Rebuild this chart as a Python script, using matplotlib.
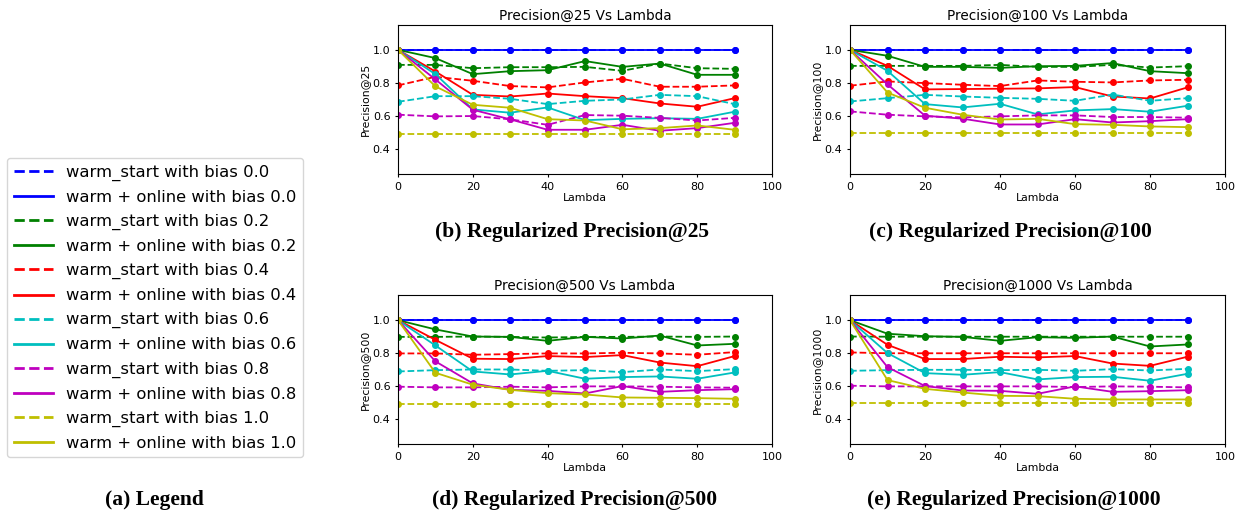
import matplotlib
matplotlib.use("Agg")
import matplotlib.pyplot as plt
from matplotlib.lines import Line2D

lambdas = [0, 10, 20, 30, 40, 50, 60, 70, 80, 90]
biases = ["0.0", "0.2", "0.4", "0.6", "0.8", "1.0"]
colors = ["b", "g", "r", "c", "m", "y"]

# Precision@25
p25_warm = [
    [1.0] * 10,
    [0.909, 0.909, 0.889, 0.895, 0.895, 0.897, 0.873, 0.917, 0.889, 0.885],
    [0.785, 0.837, 0.813, 0.781, 0.773, 0.803, 0.825, 0.777, 0.777, 0.785],
    [0.686, 0.72, 0.72, 0.704, 0.672, 0.692, 0.70, 0.728, 0.72, 0.672],
    [0.608, 0.598, 0.60, 0.58, 0.547, 0.606, 0.602, 0.589, 0.573, 0.589],
    [0.489] * 10,
]
p25_online = [
    [1.0] * 10,
    [1.0, 0.95, 0.853, 0.871, 0.877, 0.932, 0.897, 0.917, 0.849, 0.849],
    [1.0, 0.869, 0.728, 0.718, 0.736, 0.72, 0.708, 0.676, 0.656, 0.708],
    [1.0, 0.853, 0.64, 0.62, 0.652, 0.575, 0.583, 0.587, 0.583, 0.626],
    [1.0, 0.821, 0.638, 0.58, 0.517, 0.517, 0.547, 0.511, 0.527, 0.559],
    [1.0, 0.779, 0.668, 0.65, 0.581, 0.573, 0.52, 0.527, 0.543, 0.517],
]

# Precision@100
p100_warm = [
    [1.0] * 10,
    [0.903, 0.903, 0.903, 0.903, 0.909, 0.897, 0.897, 0.909, 0.893, 0.901],
    [0.783, 0.809, 0.799, 0.789, 0.781, 0.815, 0.807, 0.803, 0.815, 0.819],
    [0.688, 0.708, 0.728, 0.718, 0.71, 0.704, 0.692, 0.73, 0.692, 0.708],
    [0.628, 0.608, 0.598, 0.592, 0.598, 0.604, 0.604, 0.594, 0.594, 0.59],
    [0.50] * 10,
]
p100_online = [
    [1.0] * 10,
    [1.0, 0.964, 0.897, 0.897, 0.891, 0.901, 0.903, 0.92, 0.871, 0.859],
    [1.0, 0.903, 0.761, 0.763, 0.765, 0.767, 0.775, 0.718, 0.706, 0.773],
    [1.0, 0.873, 0.672, 0.652, 0.674, 0.61, 0.634, 0.642, 0.626, 0.662],
    [1.0, 0.791, 0.602, 0.584, 0.549, 0.549, 0.581, 0.561, 0.569, 0.581],
    [1.0, 0.742, 0.65, 0.608, 0.579, 0.583, 0.551, 0.547, 0.537, 0.533],
]

# Precision@500
p500_warm = [
    [1.0] * 10,
    [0.899, 0.899, 0.901, 0.899, 0.895, 0.899, 0.899, 0.901, 0.899, 0.901],
    [0.799, 0.799, 0.791, 0.795, 0.799, 0.799, 0.803, 0.799, 0.791, 0.807],
    [0.69, 0.698, 0.702, 0.702, 0.694, 0.698, 0.686, 0.702, 0.692, 0.704],
    [0.598, 0.594, 0.594, 0.598, 0.594, 0.60, 0.60, 0.598, 0.594, 0.592],
    [0.495] * 10,
]
p500_online = [
    [1.0] * 10,
    [1.0, 0.944, 0.901, 0.899, 0.875, 0.899, 0.889, 0.907, 0.847, 0.857],
    [1.0, 0.881, 0.767, 0.765, 0.783, 0.777, 0.789, 0.744, 0.722, 0.783],
    [1.0, 0.847, 0.69, 0.672, 0.694, 0.646, 0.656, 0.66, 0.646, 0.684],
    [1.0, 0.751, 0.618, 0.579, 0.573, 0.557, 0.602, 0.567, 0.577, 0.583],
    [1.0, 0.682, 0.61, 0.579, 0.559, 0.551, 0.533, 0.531, 0.529, 0.525],
]

# Precision@1000
p1000_warm = [
    [1.0] * 10,
    [0.901, 0.90, 0.90, 0.90, 0.90, 0.90, 0.90, 0.90, 0.90, 0.90],
    [0.805, 0.80, 0.80, 0.80, 0.80, 0.80, 0.80, 0.80, 0.80, 0.80],
    [0.694, 0.698, 0.70, 0.70, 0.698, 0.70, 0.694, 0.704, 0.696, 0.706],
    [0.604, 0.60, 0.60, 0.60, 0.60, 0.60, 0.596, 0.60, 0.598, 0.594],
    [0.50] * 10,
]
p1000_online = [
    [1.0] * 10,
    [1.0, 0.918, 0.903, 0.899, 0.875, 0.897, 0.893, 0.901, 0.841, 0.853],
    [1.0, 0.851, 0.765, 0.765, 0.779, 0.775, 0.783, 0.738, 0.724, 0.779],
    [1.0, 0.801, 0.68, 0.67, 0.686, 0.642, 0.656, 0.658, 0.634, 0.676],
    [1.0, 0.716, 0.602, 0.575, 0.573, 0.555, 0.60, 0.567, 0.571, 0.577],
    [1.0, 0.638, 0.585, 0.563, 0.543, 0.541, 0.525, 0.521, 0.521, 0.521],
]

panels = [
    ("25", p25_warm, p25_online, [0.3215, 0.6602, 0.3021, 0.291]),
    ("100", p100_warm, p100_online, [0.6866, 0.6602, 0.3029, 0.291]),
    ("500", p500_warm, p500_online, [0.3215, 0.1322, 0.3021, 0.291]),
    ("1000", p1000_warm, p1000_online, [0.6866, 0.1322, 0.3029, 0.291]),
]
captions = ["(b) Regularized Precision@25", "(c) Regularized Precision@100",
            "(d) Regularized Precision@500", "(e) Regularized Precision@1000"]
caption_pos = [(0.462, 0.527), (0.816, 0.527), (0.464, 0.004), (0.819, 0.004)]

fig = plt.figure(figsize=(12.38, 5.12), dpi=100)

for i, (k, warm, online, rect) in enumerate(panels):
    ax = fig.add_axes(rect)
    for j in range(len(biases)):
        ax.plot(lambdas, warm[j], color=colors[j], linestyle="--", marker="o",
                markersize=4, linewidth=1.3)
        ax.plot(lambdas, online[j], color=colors[j], linestyle="-", marker="o",
                markersize=4, linewidth=1.3)
    ax.set_xlim(0, 100)
    ax.set_ylim(0.25, 1.15)
    ax.set_xticks([0, 20, 40, 60, 80, 100])
    ax.set_yticks([0.4, 0.6, 0.8, 1.0])
    ax.tick_params(labelsize=8, length=2)
    ax.set_title("Precision@" + k + " Vs Lambda", fontsize=9.8, pad=4)
    ax.set_xlabel("Lambda", fontsize=7.8, labelpad=1)
    ax.set_ylabel("Precision@" + k, fontsize=7.8, labelpad=2)
    fig.text(caption_pos[i][0], caption_pos[i][1], captions[i], ha="center",
             va="bottom", fontsize=15.5, fontweight="bold",
             family="Liberation Serif")

fig.text(0.125, 0.004, "(a) Legend", ha="center", va="bottom",
         fontsize=15.5, fontweight="bold", family="Liberation Serif")

handles = []
labels = []
for j in range(len(biases)):
    handles.append(Line2D([], [], color=colors[j], linestyle="--", linewidth=2))
    labels.append("warm_start with bias " + biases[j])
    handles.append(Line2D([], [], color=colors[j], linestyle="-", linewidth=2))
    labels.append("warm + online with bias " + biases[j])

fig.legend(handles, labels, loc="upper left", bbox_to_anchor=(0.0057, 0.6914),
           borderaxespad=0, fontsize=11.8, handlelength=2.4, labelspacing=0.55)

fig.savefig("out.png", dpi=100)
